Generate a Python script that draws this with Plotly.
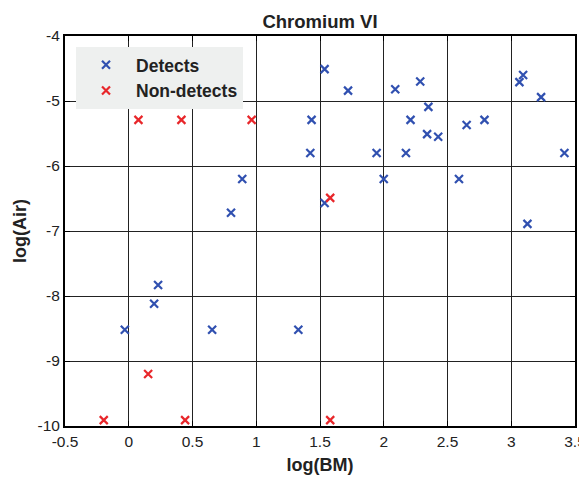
import plotly.graph_objects as go

det_x = [0.89, 1.536, 1.72, 2.09, 2.286, 3.064, 3.093, 3.234, 1.434, 2.35, 2.21, 2.65, 2.79,
         2.34, 2.427, 1.424, 1.944, 2.174, 3.417, 2.0, 2.59, 1.536, 3.127,
         0.802, 0.23, 0.199, -0.031, 0.654, 1.33]
det_y = [-6.2, -4.51, -4.84, -4.82, -4.70, -4.71, -4.60, -4.94, -5.29, -5.09, -5.29, -5.37, -5.29,
         -5.51, -5.55, -5.80, -5.80, -5.80, -5.80, -6.20, -6.20, -6.57, -6.89,
         -6.72, -7.83, -8.12, -8.52, -8.52, -8.52]
nd_x = [0.076, 0.413, 0.964, 1.58, -0.196, 0.152, 0.442, 1.58]
nd_y = [-5.29, -5.29, -5.29, -6.49, -9.91, -9.2, -9.91, -9.91]

x_ticks = [-0.5, 0, 0.5, 1, 1.5, 2, 2.5, 3, 3.5]
x_labels = ["-0.5", "0", "0.5", "1", "1.5", "2", "2.5", "3", "3.5"]
y_ticks = [-10, -9, -8, -7, -6, -5, -4]
y_labels = ["-10", "-9", "-8", "-7", "-6", "-5", "-4"]

fig = go.Figure()
fig.add_trace(go.Scatter(x=det_x, y=det_y, mode="markers", name="<b>Detects</b>",
                         marker=dict(symbol="x-thin", size=8, color="#3050b0",
                                     line=dict(width=2.2, color="#3050b0"))))
fig.add_trace(go.Scatter(x=nd_x, y=nd_y, mode="markers", name="<b>Non-detects</b>",
                         marker=dict(symbol="x-thin", size=8, color="#e8262a",
                                     line=dict(width=2.2, color="#e8262a"))))

font = "Liberation Sans, Arial, sans-serif"
txt = "#222222"
axis_common = dict(showgrid=True, gridcolor="#222222", gridwidth=1,
                   showline=True, linecolor="black", linewidth=2, mirror="ticks",
                   ticks="inside", ticklen=5, tickcolor="black", zeroline=False,
                   automargin=False,
                   tickfont=dict(family=font, size=15.5, color=txt))

# the page body has an 8px margin; size the figure so the plot area lands where the reference has it
fig.update_layout(
    width=579, height=470,
    margin=dict(l=57, r=12, t=28, b=52),
    paper_bgcolor="white", plot_bgcolor="white",
    title=dict(text="<b>Chromium VI</b>", x=0.5, xanchor="center", y=0.972, yanchor="middle",
               xref="paper", font=dict(family=font, size=18.5, color=txt)),
    xaxis=dict(range=[-0.5, 3.5], tickvals=x_ticks, ticktext=x_labels,
               title=dict(text="<b>log(BM)</b>", font=dict(family=font, size=18, color=txt), standoff=10),
               **axis_common),
    yaxis=dict(range=[-10, -4], tickvals=y_ticks, ticktext=y_labels,
               title=dict(text="<b>log(Air)</b>", font=dict(family=font, size=18, color=txt), standoff=6),
               **axis_common),
    legend=dict(x=0.0216, y=0.972, xanchor="left", yanchor="top",
                bgcolor="#eef0ef", borderwidth=0,
                font=dict(family=font, size=17.5, color=txt),
                itemwidth=50, tracegroupgap=0),
    showlegend=True,
)

fig.write_html("out.html")
